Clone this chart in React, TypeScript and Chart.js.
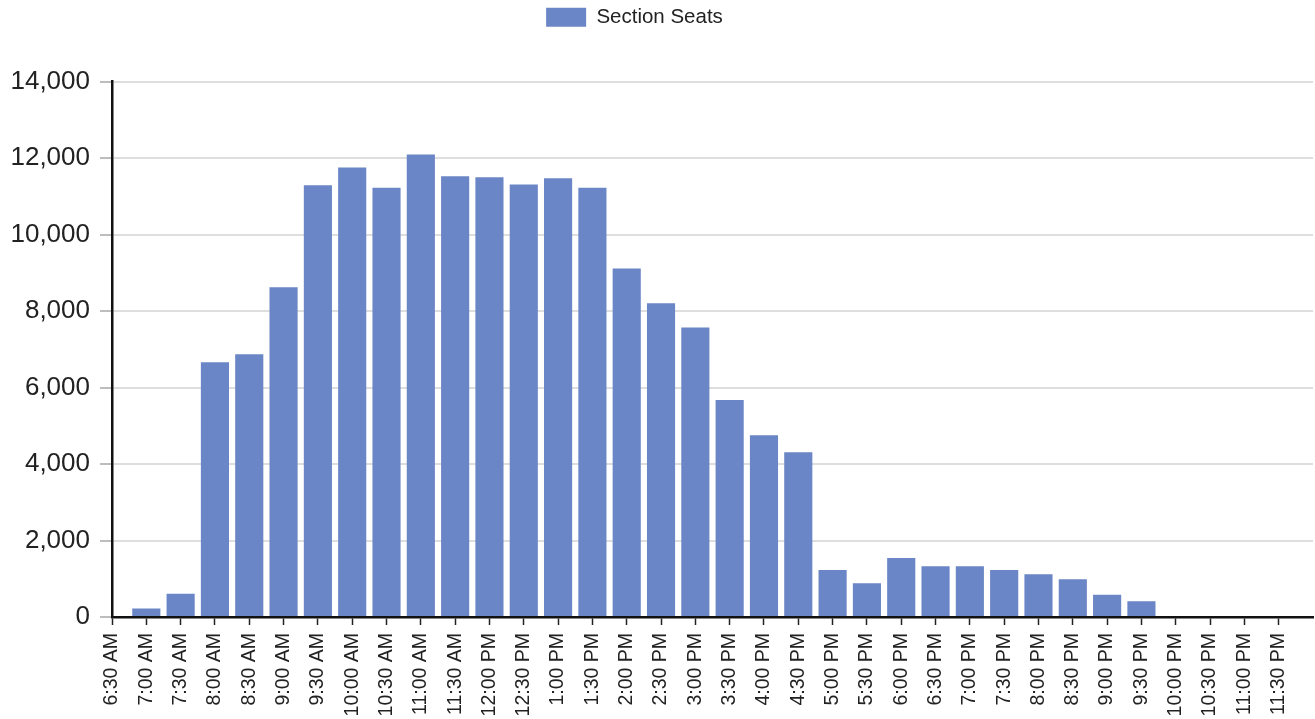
import React, { useEffect, useRef } from 'react';
import { Chart, ChartConfiguration, registerables } from 'chart.js';

Chart.register(...registerables);

// half-hour slots; the trailing blank slot leaves the empty gap at the right edge
const timeSlots = [
  '6:30 AM', '7:00 AM', '7:30 AM', '8:00 AM', '8:30 AM', '9:00 AM', '9:30 AM',
  '10:00 AM', '10:30 AM', '11:00 AM', '11:30 AM', '12:00 PM', '12:30 PM',
  '1:00 PM', '1:30 PM', '2:00 PM', '2:30 PM', '3:00 PM', '3:30 PM', '4:00 PM',
  '4:30 PM', '5:00 PM', '5:30 PM', '6:00 PM', '6:30 PM', '7:00 PM', '7:30 PM',
  '8:00 PM', '8:30 PM', '9:00 PM', '9:30 PM', '10:00 PM', '10:30 PM',
  '11:00 PM', '11:30 PM', '',
];

const sectionSeats = [
  0, 220, 610, 6660, 6870, 8620, 11290, 11750, 11220, 12090, 11520, 11500,
  11310, 11470, 11220, 9110, 8200, 7570, 5670, 4750, 4310, 1230, 880, 1540,
  1330, 1330, 1230, 1120, 990, 580, 410, 0, 0, 0, 0, null,
];

const yTicks = [0, 2000, 4000, 6000, 8000, 10000, 12000, 14000];

const FONT = '"Liberation Sans", Arial, sans-serif';
const BAR_COLOR = '#6b86c6';

// extra room under the legend, and legend sits a bit left of centre like the original
const legendTweaks = {
  id: 'legendTweaks',
  beforeInit(chart: any) {
    const origFit = chart.legend.fit;
    chart.legend.fit = function fit() {
      origFit.bind(chart.legend)();
      this.height += 44;
    };
  },
  afterLayout(chart: any) {
    chart.legend.left -= 44;
    chart.legend.right -= 0;
  },
};

export default function App() {
  const canvasRef = useRef<HTMLCanvasElement>(null);
  const chartRef = useRef<Chart | null>(null);

  useEffect(() => {
    document.body.style.margin = '0';
    if (!canvasRef.current) return;
    if (chartRef.current) chartRef.current.destroy();

    const config: ChartConfiguration = {
      type: 'bar',
      data: {
        labels: timeSlots,
        datasets: [{
          label: 'Section Seats',
          data: sectionSeats as any,
          backgroundColor: BAR_COLOR,
          borderWidth: 0,
          barPercentage: 0.82,
          categoryPercentage: 1,
        }],
      },
      plugins: [legendTweaks],
      options: {
        responsive: false,
        maintainAspectRatio: false,
        animation: false,
        layout: { padding: { left: 0, right: 2, top: 0, bottom: 0 } },
        plugins: {
          legend: {
            position: 'top',
            labels: {
              boxWidth: 40,
              boxHeight: 19,
              padding: 7,
              color: '#222',
              font: { family: FONT, size: 20.5 },
            },
          },
          tooltip: { enabled: false },
        },
        scales: {
          x: {
            offset: false,
            grid: {
              offset: false,
              drawOnChartArea: false,
              tickLength: 8,
              tickWidth: 1.5,
              tickColor: (ctx: any) => (ctx.index === timeSlots.length - 1 ? 'rgba(0,0,0,0)' : '#222'),
            },
            border: { color: '#111', width: 2.5 },
            ticks: {
              autoSkip: false,
              minRotation: 90,
              maxRotation: 90,
              padding: 8,
              color: '#222',
              font: { family: FONT, size: 19.5 },
            },
            afterFit: (scale: any) => {
              scale.height = 102;
              scale.paddingLeft = 0;
              scale.paddingRight = 0;
            },
          },
          y: {
            min: 0,
            max: 14000,
            afterBuildTicks: (scale: any) => { scale.ticks = yTicks.map((v) => ({ value: v })); },
            grid: {
              color: '#dedede',
              lineWidth: 2,
              tickLength: 12,
              tickColor: '#bdbdbd',
            },
            border: { color: '#111', width: 2.5 },
            ticks: {
              padding: 10,
              color: '#222',
              font: { family: FONT, size: 26 },
              callback: (v: any) => Number(v).toLocaleString('en-US'),
            },
            afterFit: (scale: any) => { scale.width = 112; },
          },
        },
      },
    };

    chartRef.current = new Chart(canvasRef.current, config);
    return () => {
      if (chartRef.current) {
        chartRef.current.destroy();
        chartRef.current = null;
      }
    };
  }, []);

  return (
    <div style={{ width: 1315, height: 719, background: '#fff' }}>
      <canvas ref={canvasRef} width={1315} height={719} style={{ width: '1315px', height: '719px', display: 'block' }} />
    </div>
  );
}
